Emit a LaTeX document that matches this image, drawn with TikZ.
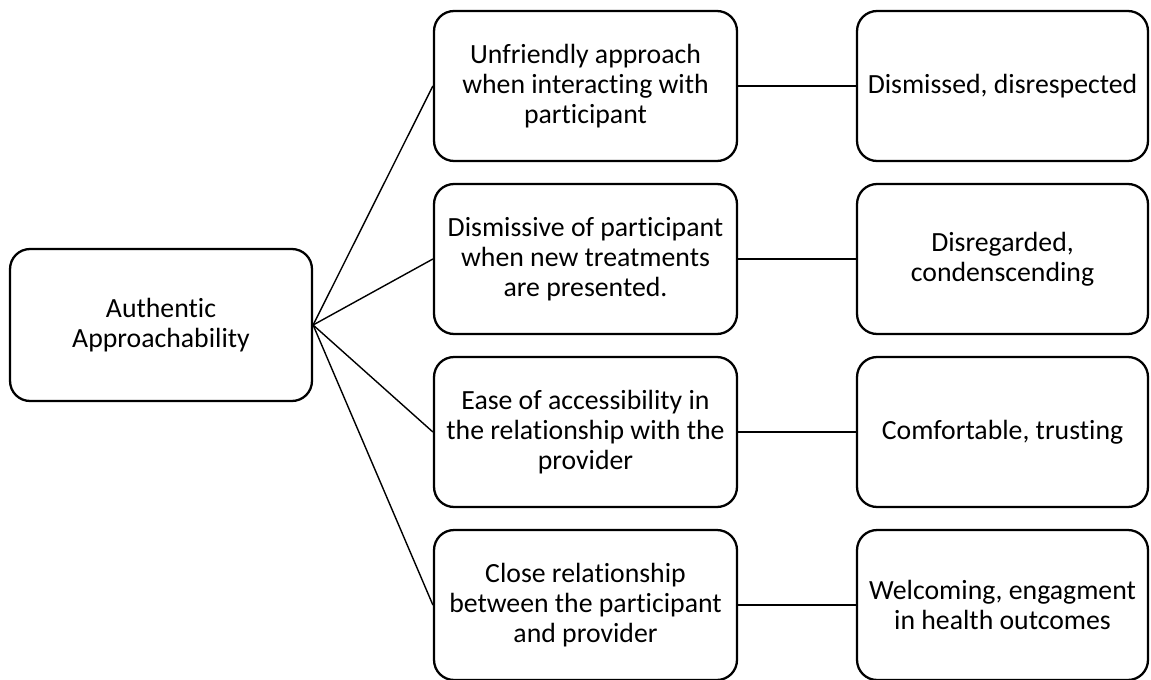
\documentclass[tikz,border=0pt]{standalone}
\usepackage{fontspec}
\setmainfont{Carlito}[Ligatures={NoCommon,NoContextual}]

\begin{document}
\begin{tikzpicture}[x=0.02cm, y=-0.02cm, every node/.style={draw, line width=1.3pt, rounded corners=0.4cm, align=center, inner sep=0pt, font=\fontsize{15.8}{17}\selectfont}]
    \useasboundingbox (0,0) rectangle (1151,679);

    % Define boxes
    \node[minimum width=6.04cm, minimum height=3.04cm] (theme) at (161,325) {Authentic\\Approachability};

    \node[minimum width=6.06cm, minimum height=3cm] (m1) at (585.5,86) {Unfriendly approach\\when interacting with\\participant};
    \node[minimum width=6.06cm, minimum height=3cm] (m2) at (585.5,259) {Dismissive of participant\\when new treatments\\are presented.};
    \node[minimum width=6.06cm, minimum height=3cm] (m3) at (585.5,432) {Ease of accessibility in\\the relationship with the\\provider};
    \node[minimum width=6.06cm, minimum height=3cm] (m4) at (585.5,605) {Close relationship\\between the participant\\and provider};

    \node[minimum width=5.82cm, minimum height=3cm] (r1) at (1002.5,86) {Dismissed, disrespected};
    \node[minimum width=5.82cm, minimum height=3cm] (r2) at (1002.5,259) {Disregarded,\\condenscending};
    \node[minimum width=5.82cm, minimum height=3cm] (r3) at (1002.5,432) {Comfortable, trusting};
    \node[minimum width=5.82cm, minimum height=3cm] (r4) at (1002.5,605) {Welcoming, engagment\\in health outcomes};

    % Draw edges
    \draw[line width=0.8pt] (theme.east) -- (m1.west); % theme -> first
    \draw[line width=0.8pt] (theme.east) -- (m2.west); % theme -> second
    \draw[line width=0.8pt] (theme.east) -- (m3.west); % theme -> third
    \draw[line width=0.8pt] (theme.east) -- (m4.west); % theme -> fourth
    \draw[line width=0.8pt] (m1) -- (r1);
    \draw[line width=0.8pt] (m2) -- (r2);
    \draw[line width=0.8pt] (m3) -- (r3);
    \draw[line width=0.8pt] (m4) -- (r4);
\end{tikzpicture}
\end{document}
